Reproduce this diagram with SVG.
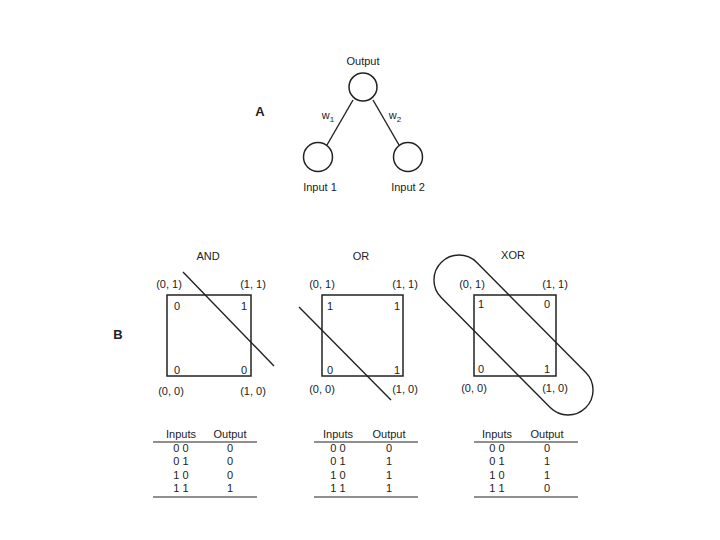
<svg xmlns="http://www.w3.org/2000/svg" width="720" height="540" viewBox="0 0 720 540">
<style>
text{font-family:"Liberation Sans",Arial,sans-serif;font-size:11px;fill:#222;text-anchor:middle}
.big{font-size:13px;font-weight:bold}
.sub{font-size:8px}
.n{fill:none;stroke:#222;stroke-width:1.5}
.l{fill:none;stroke:#222;stroke-width:1.4}
.r{stroke:#222;stroke-width:1.2}
</style>
<rect width="720" height="540" fill="#fff"/>
<!-- Panel A -->
<text class="big" x="260" y="116">A</text>
<g id="output"><circle class="n" cx="363" cy="87" r="14"/><text x="363" y="65">Output</text></g>
<g id="input1"><circle class="n" cx="318" cy="157" r="14.5"/><text x="320" y="191">Input 1</text></g>
<g id="input2"><circle class="n" cx="408" cy="157" r="14.5"/><text x="408" y="191">Input 2</text></g>
<g id="connectors">
<line class="l" x1="353" y1="100" x2="327" y2="145"/>
<line class="l" x1="373" y1="100" x2="399" y2="145"/>
<text x="328" y="119">w<tspan class="sub" dy="3">1</tspan></text>
<text x="395" y="119">w<tspan class="sub" dy="3">2</tspan></text>
</g>
<!-- Panel B -->
<text class="big" x="118" y="339">B</text>
<g id="and">
<text x="208" y="260">AND</text>
<rect class="n" x="167" y="295" width="84" height="81"/>
<line class="l" x1="183" y1="272" x2="274" y2="366"/>
<text x="169" y="288">(0, 1)</text><text x="253" y="288">(1, 1)</text>
<text x="171" y="395">(0, 0)</text><text x="253" y="395">(1, 0)</text>
<text x="177" y="310">0</text><text x="244" y="310">1</text>
<text x="177" y="374">0</text><text x="244" y="374">0</text>
</g>
<g id="or">
<text x="361" y="260">OR</text>
<rect class="n" x="322" y="295" width="81" height="81"/>
<line class="l" x1="299" y1="307" x2="391" y2="400"/>
<text x="322" y="288">(0, 1)</text><text x="405" y="288">(1, 1)</text>
<text x="322" y="393">(0, 0)</text><text x="405" y="393">(1, 0)</text>
<text x="330" y="310">1</text><text x="397" y="310">1</text>
<text x="330" y="374">0</text><text x="397" y="374">1</text>
</g>
<g id="xor">
<text x="513" y="259">XOR</text>
<rect class="n" x="474" y="295" width="82" height="81"/>
<path class="l" d="M476.8,262.4 L585.8,372.4 A25,25 0 0 1 550.2,407.6 L441.2,297.6 A25,25 0 0 1 476.8,262.4 Z"/>
<text x="472" y="288">(0, 1)</text><text x="555" y="288">(1, 1)</text>
<text x="474" y="392">(0, 0)</text><text x="555" y="392">(1, 0)</text>
<text x="481" y="308">1</text><text x="547" y="308">0</text>
<text x="481" y="373">0</text><text x="547" y="373">1</text>
</g>
<!-- Tables -->
<g id="table-and">
<text x="181" y="438">Inputs</text><text x="230" y="438">Output</text>
<line class="r" x1="153" y1="442" x2="257" y2="442"/>
<text x="181" y="452">0 0</text><text x="230" y="452">0</text>
<text x="181" y="465">0 1</text><text x="230" y="465">0</text>
<text x="181" y="479">1 0</text><text x="230" y="479">0</text>
<text x="181" y="492">1 1</text><text x="230" y="492">1</text>
<line class="r" x1="153" y1="497" x2="257" y2="497"/>
</g>
<g id="table-or">
<text x="338" y="438">Inputs</text><text x="389" y="438">Output</text>
<line class="r" x1="314" y1="442" x2="418" y2="442"/>
<text x="338" y="452">0 0</text><text x="389" y="452">0</text>
<text x="338" y="465">0 1</text><text x="389" y="465">1</text>
<text x="338" y="479">1 0</text><text x="389" y="479">1</text>
<text x="338" y="492">1 1</text><text x="389" y="492">1</text>
<line class="r" x1="314" y1="497" x2="418" y2="497"/>
</g>
<g id="table-xor">
<text x="497" y="438">Inputs</text><text x="547" y="438">Output</text>
<line class="r" x1="474" y1="442" x2="578" y2="442"/>
<text x="497" y="452">0 0</text><text x="547" y="452">0</text>
<text x="497" y="465">0 1</text><text x="547" y="465">1</text>
<text x="497" y="479">1 0</text><text x="547" y="479">1</text>
<text x="497" y="492">1 1</text><text x="547" y="492">0</text>
<line class="r" x1="474" y1="497" x2="578" y2="497"/>
</g>
</svg>
